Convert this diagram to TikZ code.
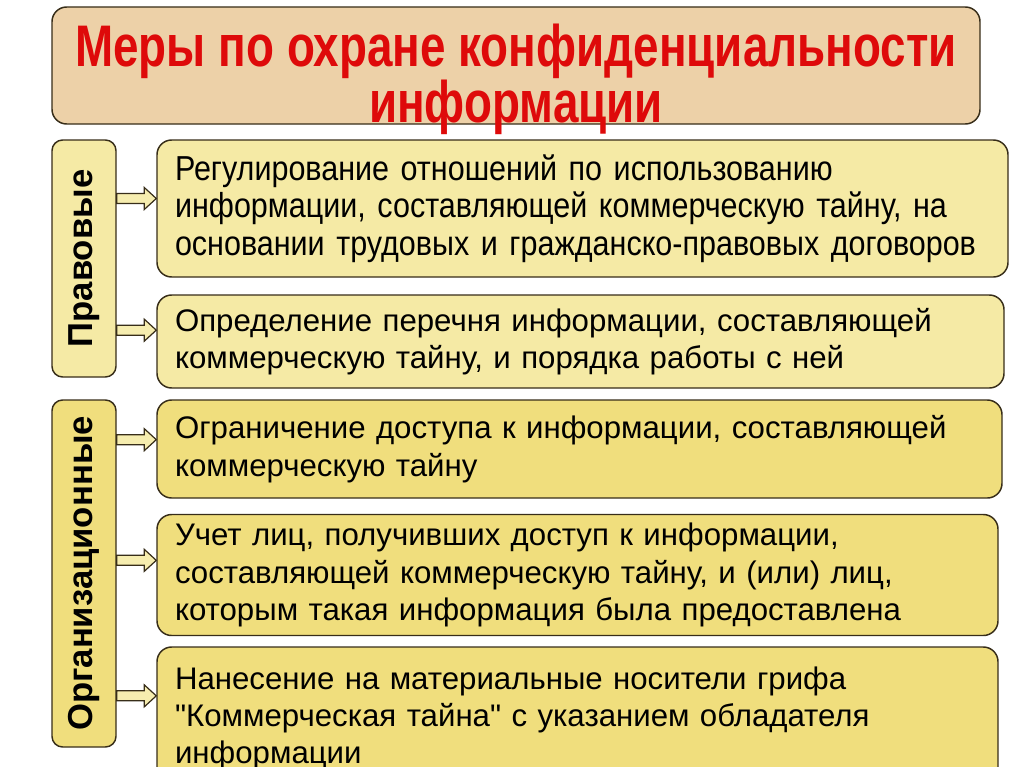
\documentclass[tikz,border=0pt]{standalone}
\usepackage{fontspec}
\setmainfont{Liberation Sans}
\newfontfamily\narrowfont{Liberation Sans}[FakeStretch=0.88]
\newfontfamily\headfont{Liberation Sans}[FakeStretch=0.78]
\usetikzlibrary{calc, positioning}

\definecolor{headfill}{RGB}{237,209,168}
\definecolor{headred}{RGB}{222,10,10}
\definecolor{paleyellow}{RGB}{245,234,165}
\definecolor{deepyellow}{RGB}{240,222,125}
\definecolor{arrowfill}{RGB}{246,237,175}
\definecolor{edge}{RGB}{55,45,25}

\tikzset{
  headbox/.style={draw=edge, line width=1.1pt, fill=headfill, rounded corners=11pt},
  headtext/.style={align=center, text=headred, inner sep=0pt,
    font=\headfont\bfseries\fontsize{44}{34}\selectfont},
  sidebox/.style={draw=edge, line width=1.1pt, rounded corners=8pt, minimum width=48pt, inner sep=0pt,
    font=\bfseries\fontsize{26}{28}\selectfont},
  itembox/.style={draw=edge, line width=1.1pt, rounded corners=11pt, align=left, inner xsep=13.5pt, inner ysep=0pt,
    font=\fontsize{23.4}{28}\selectfont},
  linkarrow/.style={draw=edge, line width=0.9pt, fill=arrowfill, line join=miter}
}

% block arrow from a side box to an item box, lifted by #3
\newcommand\linkarr[3]{%
  \draw[linkarrow] let \p1=(#1.east), \p2=(#2.west) in
    (\x1,\y2+#3+3.75pt) -- (\x2-9pt,\y2+#3+3.75pt) -- (\x2-9pt,\y2+#3+8.25pt)
    -- (\x2,\y2+#3) -- (\x2-9pt,\y2+#3-8.25pt) -- (\x2-9pt,\y2+#3-3.75pt)
    -- (\x1,\y2+#3-3.75pt) -- cycle;}

\begin{document}
\begin{tikzpicture}[x=0.75pt, y=-0.75pt]
  \useasboundingbox (0,0) rectangle (1024,767);
  \clip (0,0) rectangle (1024,767);

  % title
  \node[headbox, minimum width=696pt, minimum height=87.75pt] (head) at (516,65.5) {};
  \node[headtext] (headtxt) at ($(head.center)+(0,14)$)
    {Меры по охране конфиденциальности\\информации};

  % groups
  \node[sidebox, fill=paleyellow, minimum height=177.75pt] (legal) at (84,258.5)
    {\rotatebox{90}{Правовые}};
  \node[sidebox, fill=deepyellow, minimum height=260.25pt] (orga) at (84,573.5)
    {\rotatebox{90}{Организационные}};

  % measures
  \node[itembox, fill=paleyellow, text width=611.25pt, minimum height=102.75pt,
        font=\narrowfont\fontsize{26}{28}\selectfont] (m1) at (582.5,208.5)
    {Регулирование отношений по использованию\\
     информации, составляющей коммерческую тайну, на\\
     основании трудовых и гражданско-правовых договоров};
  \node[itembox, fill=paleyellow, text width=608.25pt, minimum height=69.75pt] (m2) at (580.5,341.5)
    {Определение перечня информации, составляющей\\
     коммерческую тайну, и порядка работы с ней};
  \node[itembox, fill=deepyellow, text width=606.75pt, minimum height=73.5pt] (m3) at (579.5,449)
    {Ограничение доступа к информации, составляющей\\
     коммерческую тайну};
  \node[itembox, fill=deepyellow, text width=603.75pt, minimum height=90.75pt] (m4) at (577.5,575)
    {Учет лиц, получивших доступ к информации,\\
     составляющей коммерческую тайну, и (или) лиц,\\
     которым такая информация была предоставлена};
  \node[itembox, fill=deepyellow, text width=603.75pt, minimum height=107.25pt] (m5) at (577.5,718.5)
    {Нанесение на материальные носители грифа\\
     \textquotedbl Коммерческая тайна\textquotedbl{} с указанием обладателя\\
     информации};

  % arrows
  \linkarr{legal}{m1}{7.5pt}
  \linkarr{legal}{m2}{8.5pt}
  \linkarr{orga}{m3}{7pt}
  \linkarr{orga}{m4}{11pt}
  \linkarr{orga}{m5}{17pt}
\end{tikzpicture}
\end{document}
